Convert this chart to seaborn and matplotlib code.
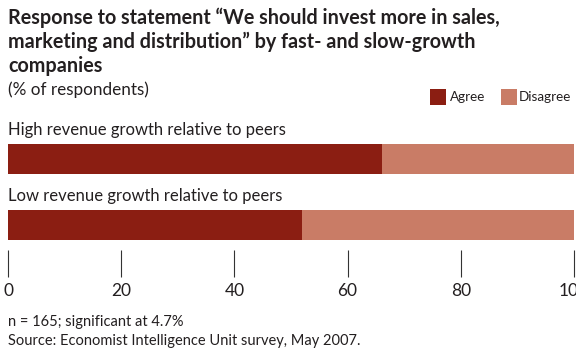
import matplotlib
matplotlib.use("Agg")
import matplotlib.pyplot as plt
import seaborn as sns
import pandas as pd
from matplotlib.patches import Rectangle

# Survey responses, % of respondents
groups = ["High revenue growth relative to peers", "Low revenue growth relative to peers"]
agree = [66, 52]
disagree = [34, 48]
x_ticks = [0, 20, 40, 60, 80, 100]

title_lines = [
    "Response to statement \u201cWe should invest more in sales,",
    "marketing and distribution\u201d by fast- and slow-growth",
    "companies",
]
subtitle = "(% of respondents)"
notes = ["n = 165; significant at 4.7%",
         "Source: Economist Intelligence Unit survey, May 2007."]

AGREE_COL = "#8b1e12"
DISAGREE_COL = "#c97c66"
TEXT_COL = "#231f20"

W, H = 576, 352

sns.set_theme(style="white")
plt.rcParams["font.family"] = ["Lato", "DejaVu Sans"]

df = pd.DataFrame({"group": groups, "agree": agree, "disagree": disagree})
df["total"] = df["agree"] + df["disagree"]

fig = plt.figure(figsize=(W / 100, H / 100), dpi=100)
renderer = fig.canvas.get_renderer()


def px(x, y):
    """pixel position (from top-left) -> figure fraction"""
    return x / W, 1 - y / H


def fit_width(txt, width):
    """scale a text's font size so it spans the given pixel width"""
    for _ in range(3):
        bb = txt.get_window_extent(renderer)
        txt.set_fontsize(txt.get_fontsize() * width / bb.width)
    return txt.get_fontsize()


ax = fig.add_axes([8 / W, 1 - 277 / H, 566 / W, (277 - 120) / H])

# stacked horizontal bars: full length in the light colour, agree share on top
sns.barplot(data=df, y="group", x="total", color=DISAGREE_COL, orient="h",
            width=0.455, saturation=1, linewidth=0, ax=ax)
sns.barplot(data=df, y="group", x="agree", color=AGREE_COL, orient="h",
            width=0.455, saturation=1, linewidth=0, ax=ax)

ax.set_xlim(0, 100)
ax.set_ylim(1.79, -0.59)
ax.set_xlabel("")
ax.set_ylabel("")
ax.set_yticks([])
for s in ax.spines.values():
    s.set_visible(False)

ax.set_xticks(x_ticks)
ax.set_xticklabels([str(t) for t in x_ticks])
ax.tick_params(axis="x", direction="in", length=19.5, width=0.8, color="#333333",
               pad=4, labelsize=12.5, labelcolor=TEXT_COL, bottom=True)

# group labels above each bar
g_size = None
for i, g in enumerate(groups):
    t = ax.text(0, i - 0.36, g, ha="left", va="baseline", fontsize=12, color=TEXT_COL)
    if g_size is None:
        g_size = fit_width(t, 276)
    else:
        t.set_fontsize(g_size)

# title block
t_size = None
for k, line in enumerate(title_lines):
    t = fig.text(*px(8, 24 + 24 * k), line, ha="left", va="baseline",
                 fontsize=14, fontweight="bold", color=TEXT_COL)
    if t_size is None:
        t_size = fit_width(t, 494)
    else:
        t.set_fontsize(t_size)

sub = fig.text(*px(8, 90), subtitle, ha="left", va="center", fontsize=12, color=TEXT_COL)
fit_width(sub, 141)

# legend
for x0, lab, col in [(430, "Agree", AGREE_COL), (501, "Disagree", DISAGREE_COL)]:
    fig.patches.append(Rectangle(px(x0, 105), 16 / W, 16 / H,
                                 transform=fig.transFigure, color=col, lw=0))
leg_a = fig.text(*px(450, 97), "Agree", ha="left", va="center", fontsize=11, color=TEXT_COL)
leg_size = fit_width(leg_a, 35)
fig.text(*px(519, 97), "Disagree", ha="left", va="center", fontsize=leg_size, color=TEXT_COL)

# footnotes
n_size = None
for k, note in enumerate(notes):
    t = fig.text(*px(8, 322 + 19 * k), note, ha="left", va="center",
                 fontsize=10, color=TEXT_COL)
    if n_size is None:
        n_size = fit_width(t, 175)
    else:
        t.set_fontsize(n_size)

fig.savefig("out.png", dpi=100)
